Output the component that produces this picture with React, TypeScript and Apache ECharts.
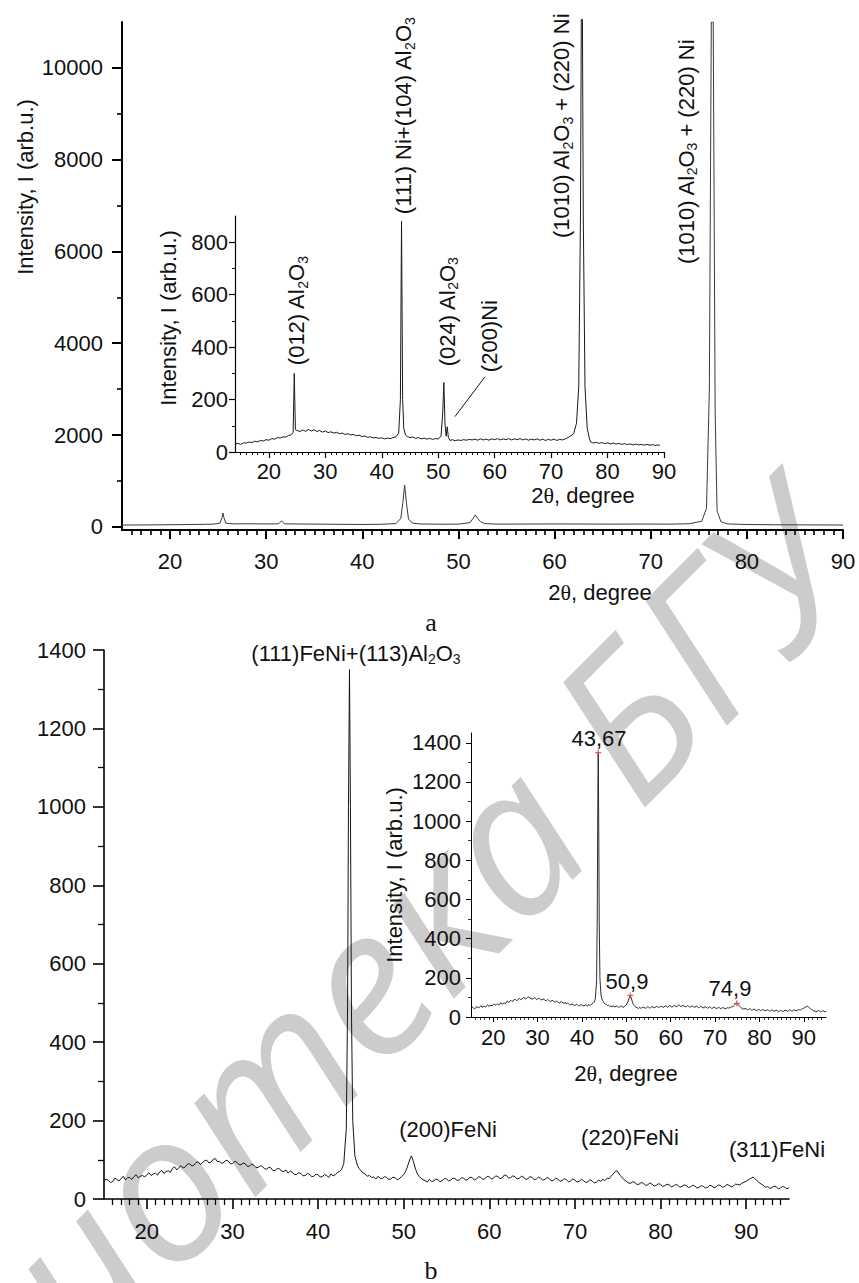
import React, { useEffect, useRef } from 'react';
import * as echarts from 'echarts';

// ---------------- data ----------------
const xTicks = [20, 30, 40, 50, 60, 70, 80, 90];
const yTicksAMain = [0, 2000, 4000, 6000, 8000, 10000];
const yTicksAInset = [0, 200, 400, 600, 800];
const yTicksB = [0, 200, 400, 600, 800, 1000, 1200, 1400];

// (a) main pattern, 2θ vs intensity
const specAMain: [number, number][] = [
  [15, 38], [17, 40], [19, 43], [21, 47], [23, 52], [24.5, 58], [25.2, 80], [25.4, 200], [25.5, 300], [25.6, 200],
  [25.8, 80], [26.5, 64], [28, 66], [30, 62], [31.3, 64], [31.6, 130], [31.9, 64], [34, 60], [37, 55], [40, 50],
  [42, 55], [43.5, 70], [44, 180], [44.2, 500], [44.4, 910], [44.6, 500], [44.8, 170], [45.2, 80], [46, 62], [48, 56],
  [50, 58], [51.2, 90], [51.5, 180], [51.75, 260], [52, 180], [52.3, 110], [52.7, 70], [54, 58], [57, 60], [60, 62],
  [63, 60], [66, 58], [69, 60], [72, 58], [74, 66], [75.3, 120], [75.8, 400], [76.1, 3000], [76.3, 11000], [76.5, 11000],
  [76.7, 2500], [76.9, 350], [77.3, 110], [78, 62], [80, 50], [83, 44], [86, 42], [88, 40], [90, 38],
];

// (a) inset pattern
const specAInset: [number, number][] = [
  [14, 30], [14.5, 33], [15, 29], [15.5, 35], [16, 34], [16.5, 38], [17, 36], [17.5, 41], [18, 39], [18.5, 44],
  [19, 42], [19.5, 47], [20, 45], [20.5, 51], [21, 49], [21.5, 55], [22, 53], [22.5, 58], [23, 57], [23.5, 63],
  [24, 66], [24.3, 75], [24.5, 300], [24.7, 85], [25, 82], [25.5, 78], [26, 84], [26.5, 79], [27, 86], [27.5, 80],
  [28, 85], [28.5, 78], [29, 82], [29.5, 76], [30, 80], [30.5, 74], [31, 77], [31.5, 72], [32, 75], [32.5, 70],
  [33, 72], [33.5, 67], [34, 70], [34.5, 65], [35, 67], [35.5, 62], [36, 64], [36.5, 59], [37, 61], [37.5, 56],
  [38, 58], [38.5, 54], [39, 55], [39.5, 52], [40, 54], [40.5, 50], [41, 53], [41.5, 51], [42, 55], [42.5, 58],
  [43, 72], [43.3, 200], [43.5, 880], [43.7, 200], [43.9, 90], [44.2, 65], [44.6, 58], [45, 55], [45.5, 57], [46, 52],
  [46.5, 55], [47, 50], [47.5, 53], [48, 49], [48.5, 52], [49, 48], [49.5, 51], [50, 50], [50.5, 60], [50.8, 150],
  [51.0, 265], [51.2, 110], [51.4, 60], [51.6, 96], [51.8, 55], [52.1, 44], [52.5, 47], [53, 43], [53.5, 46], [54, 44],
  [54.5, 47], [55, 45], [55.5, 48], [56, 46], [56.5, 49], [57, 45], [57.5, 50], [58, 46], [58.5, 49], [59, 45],
  [59.5, 50], [60, 47], [60.5, 51], [61, 46], [61.5, 50], [62, 47], [62.5, 51], [63, 46], [63.5, 50], [64, 47],
  [64.5, 51], [65, 46], [65.5, 50], [66, 45], [66.5, 49], [67, 46], [67.5, 50], [68, 45], [68.5, 49], [69, 44],
  [69.5, 48], [70, 45], [70.5, 49], [71, 44], [71.5, 48], [72, 46], [72.5, 50], [73, 55], [73.5, 62], [74, 70],
  [74.5, 110], [74.9, 250], [75.2, 900], [75.35, 1650], [75.55, 1650], [75.7, 900], [76.0, 250], [76.4, 90], [76.8, 50], [77, 38],
  [77.5, 34], [78, 37], [78.5, 33], [79, 36], [79.5, 32], [80, 35], [80.5, 31], [81, 34], [81.5, 30], [82, 33],
  [82.5, 29], [83, 32], [83.5, 28], [84, 31], [84.5, 27], [85, 30], [85.5, 27], [86, 29], [86.5, 26], [87, 29],
  [87.5, 26], [88, 28], [88.5, 25], [89, 27], [89.3, 25],
];

// (b) pattern (main and inset)
const specB: [number, number][] = [
  [15, 45], [15.25, 51], [15.5, 48], [15.75, 42], [16, 44], [16.25, 53], [16.5, 50], [16.75, 46], [17, 52], [17.25, 58],
  [17.5, 49], [17.75, 54], [18, 55], [18.25, 50], [18.5, 57], [18.75, 62], [19, 54], [19.25, 58], [19.5, 60], [19.75, 56],
  [20, 62], [20.25, 67], [20.5, 60], [20.75, 64], [21, 66], [21.25, 61], [21.5, 69], [21.75, 73], [22, 65], [22.25, 70],
  [22.5, 72], [22.75, 68], [23, 78], [23.25, 82], [23.5, 74], [23.75, 80], [24, 85], [24.25, 79], [24.5, 82], [24.75, 89],
  [25, 90], [25.25, 84], [25.5, 86], [25.75, 93], [26, 95], [26.25, 88], [26.5, 92], [26.75, 98], [27, 99], [27.25, 92],
  [27.5, 94], [27.75, 101], [28, 103], [28.25, 95], [28.5, 96], [28.75, 91], [29, 93], [29.25, 99], [29.5, 97], [29.75, 90],
  [30, 90], [30.25, 96], [30.5, 94], [30.75, 88], [31, 87], [31.25, 92], [31.5, 90], [31.75, 83], [32, 84], [32.25, 89],
  [32.5, 86], [32.75, 80], [33, 80], [33.25, 85], [33.5, 83], [33.75, 77], [34, 76], [34.25, 81], [34.5, 79], [34.75, 72],
  [35, 73], [35.25, 78], [35.5, 77], [35.75, 71], [36, 70], [36.25, 74], [36.5, 66], [36.75, 71], [37, 68], [37.25, 62],
  [37.5, 63], [37.75, 67], [38, 65], [38.25, 59], [38.5, 60], [38.75, 65], [39, 63], [39.25, 57], [39.5, 58], [39.75, 63],
  [40, 62], [40.25, 56], [40.5, 57], [40.75, 62], [41, 60], [41.25, 55], [41.5, 64], [41.75, 59], [42, 62], [42.25, 67],
  [42.5, 70], [42.75, 76], [43, 90], [43.3, 180], [43.45, 500], [43.55, 1000], [43.67, 1350], [43.78, 1000], [43.9, 480], [44.05, 200],
  [44.3, 110], [44.6, 85], [44.8, 78], [45, 72], [45.25, 66], [45.5, 64], [45.75, 58], [46, 60], [46.25, 55], [46.5, 56],
  [46.75, 51], [47, 58], [47.25, 53], [47.5, 52], [47.75, 57], [48, 55], [48.25, 50], [48.5, 51], [48.75, 56], [49, 54],
  [49.25, 49], [49.5, 52], [49.75, 57], [50, 62], [50.2, 70], [50.4, 80], [50.7, 100], [50.9, 110], [51.1, 98], [51.4, 75],
  [51.6, 64], [51.8, 58], [52, 53], [52.2, 50], [52.5, 47], [52.75, 43], [53, 50], [53.25, 45], [53.5, 46], [53.75, 51],
  [54, 49], [54.25, 44], [54.5, 47], [54.75, 52], [55, 51], [55.25, 46], [55.5, 48], [55.75, 53], [56, 52], [56.25, 47],
  [56.5, 49], [56.75, 54], [57, 53], [57.25, 48], [57.5, 50], [57.75, 56], [58, 54], [58.25, 49], [58.5, 51], [58.75, 57],
  [59, 55], [59.25, 50], [59.5, 52], [59.75, 58], [60, 56], [60.25, 51], [60.5, 53], [60.75, 59], [61, 57], [61.25, 52],
  [61.5, 54], [61.75, 61], [62, 60], [62.25, 53], [62.5, 55], [62.75, 59], [63, 57], [63.25, 51], [63.5, 53], [63.75, 58],
  [64, 56], [64.25, 50], [64.5, 52], [64.75, 57], [65, 55], [65.25, 49], [65.5, 51], [65.75, 56], [66, 53], [66.25, 48],
  [66.5, 50], [66.75, 55], [67, 52], [67.25, 46], [67.5, 48], [67.75, 53], [68, 51], [68.25, 45], [68.5, 47], [68.75, 52],
  [69, 49], [69.25, 44], [69.5, 46], [69.75, 51], [70, 48], [70.25, 43], [70.5, 45], [70.75, 50], [71, 47], [71.25, 42],
  [71.5, 44], [71.75, 49], [72, 46], [72.25, 41], [72.5, 43], [72.75, 48], [73, 45], [73.25, 50], [73.5, 47], [73.75, 53],
  [74, 52], [74.2, 58], [74.4, 62], [74.7, 70], [74.9, 72], [75.1, 66], [75.3, 60], [75.5, 55], [75.75, 49], [76, 45],
  [76.25, 41], [76.5, 40], [76.75, 44], [77, 42], [77.25, 37], [77.5, 38], [77.75, 42], [78, 40], [78.25, 35], [78.5, 36],
  [78.75, 41], [79, 38], [79.25, 33], [79.5, 35], [79.75, 39], [80, 37], [80.25, 32], [80.5, 34], [80.75, 38], [81, 36],
  [81.25, 31], [81.5, 33], [81.75, 37], [82, 35], [82.25, 30], [82.5, 32], [82.75, 36], [83, 34], [83.25, 29], [83.5, 31],
  [83.75, 35], [84, 33], [84.25, 28], [84.5, 30], [84.75, 34], [85, 32], [85.25, 28], [85.5, 30], [85.75, 35], [86, 33],
  [86.25, 29], [86.5, 31], [86.75, 36], [87, 34], [87.25, 30], [87.5, 32], [87.75, 37], [88, 35], [88.25, 31], [88.5, 33],
  [88.75, 38], [89, 37], [89.25, 36], [89.5, 40], [89.75, 43], [90, 45], [90.25, 49], [90.5, 52], [90.8, 56], [91.1, 50],
  [91.3, 46], [91.5, 42], [91.75, 38], [92, 35], [92.25, 30], [92.5, 32], [92.75, 27], [93, 29], [93.25, 33], [93.5, 31],
  [93.75, 26], [94, 28], [94.25, 32], [94.5, 30], [94.75, 26], [95, 29],
];

const peaksB: [number, number][] = [[43.67, 1350], [50.9, 110], [74.9, 70]];
const peakLabelsB = ['43,67', '50,9', '74,9'];

const yTitle = 'Intensity, I (arb.u.)';
const xTitle = '2{t|θ}, degree';
const labelsA = ['(012) Al{s|2}O{s|3}', '(111) Ni+(104) Al{s|2}O{s|3}', '(024) Al{s|2}O{s|3}', '(200)Ni',
  '(1010) Al{s|2}O{s|3} + (220) Ni', '(1010) Al{s|2}O{s|3} + (220) Ni'];
const labelsB = ['(111)FeNi+(113)Al{s|2}O{s|3}', '(200)FeNi', '(220)FeNi', '(311)FeNi'];
const watermark = 'Библиотека БГУ';

// ---------------- styling helpers ----------------
const FONT = '"Liberation Sans", Arial, sans-serif';
const SERIF = '"Liberation Serif", "Times New Roman", serif';
const INK = '#111';

type AxCfg = { lw: number; tl: number; ml: number; minor: number; margin: number; offset?: number };

function axis(kind: 'x' | 'y', gridIndex: number, min: number, max: number, step: number, ticks: number[], c: AxCfg) {
  return {
    type: 'value', gridIndex, min, max, minInterval: step, maxInterval: step,
    offset: c.offset || 0,
    axisLine: { show: true, onZero: false, lineStyle: { color: '#000', width: c.lw } },
    axisTick: { show: true, inside: false, customValues: ticks, length: c.tl, lineStyle: { color: '#000', width: c.lw } },
    minorTick: { show: true, splitNumber: c.minor, length: c.ml, lineStyle: { color: '#000', width: Math.max(0.8, c.lw * 0.8) } },
    axisLabel: {
      show: true, customValues: ticks, margin: c.margin, fontSize: 22, fontFamily: FONT, color: INK,
      formatter: (v: number) => String(v),
    },
    splitLine: { show: false },
    minorSplitLine: { show: false },
  };
}

const RICH = {
  s: { fontSize: 14, fontFamily: FONT, fill: INK, lineHeight: 14, padding: [9, 0, 0, 0], verticalAlign: 'bottom' },
  t: { fontSize: 22, fontFamily: SERIF, fill: INK, lineHeight: 26 },
};

function txt(x: number, y: number, text: string, rotate: boolean, extra: any = {}) {
  return {
    type: 'text', x, y, rotation: rotate ? Math.PI / 2 : 0, z: 20,
    style: {
      text, fontSize: 22, fontFamily: FONT, fill: INK, align: 'center', verticalAlign: 'middle',
      lineHeight: 26, rich: RICH, ...extra,
    },
  };
}

export default function App() {
  const ref = useRef<HTMLDivElement>(null);

  useEffect(() => {
    const el = ref.current;
    if (!el) return;
    const chart = echarts.init(el, null, { renderer: 'svg' });

    const option: any = {
      animation: false,
      backgroundColor: '#ffffff',
      grid: [
        { left: 122, top: 22, width: 721, height: 508, outerBoundsMode: 'none' },
        { left: 235, top: 216, width: 429, height: 236, outerBoundsMode: 'none' },
        { left: 104, top: 650, width: 685, height: 549, outerBoundsMode: 'none' },
        { left: 471, top: 733, width: 355, height: 284, outerBoundsMode: 'none' },
      ],
      xAxis: [
        axis('x', 0, 15, 90, 10, xTicks, { lw: 2, tl: 9, ml: 5, minor: 10, margin: 20 }),
        axis('x', 1, 14, 90, 10, xTicks, { lw: 1.2, tl: 6, ml: 3, minor: 10, margin: 8 }),
        axis('x', 2, 15, 95, 10, xTicks, { lw: 1.6, tl: 10, ml: 6, minor: 10, margin: 21 }),
        axis('x', 3, 15, 95, 10, xTicks, { lw: 1, tl: 5, ml: 3, minor: 10, margin: 9 }),
      ],
      yAxis: [
        axis('y', 0, -70, 11000, 2000, yTicksAMain, { lw: 2, tl: 10, ml: 5, minor: 2, margin: 19 }),
        axis('y', 1, 0, 900, 200, yTicksAInset, { lw: 1.2, tl: 6, ml: 3, minor: 2, margin: 7 }),
        axis('y', 2, 0, 1400, 200, yTicksB, { lw: 1.6, tl: 11, ml: 6, minor: 2, margin: 18 }),
        axis('y', 3, 0, 1450, 200, yTicksB, { lw: 1, tl: 5, ml: 3, minor: 2, margin: 10 }),
      ],
      series: [
        {
          type: 'line', xAxisIndex: 0, yAxisIndex: 0, data: specAMain, showSymbol: false, clip: true,
          lineStyle: { color: '#3a3a3a', width: 1 }, z: 3,
        },
        {
          type: 'line', xAxisIndex: 1, yAxisIndex: 1, data: specAInset, showSymbol: false, clip: false,
          lineStyle: { color: '#1a1a1a', width: 1 }, z: 4,
          markLine: {
            silent: true, symbol: ['none', 'arrow'], symbolSize: [0, 7],
            lineStyle: { color: '#111', width: 1, type: 'solid' }, label: { show: false },
            data: [[{ coord: [58.29, 287] }, { coord: [52.97, 135] }]],
          },
        },
        {
          type: 'line', xAxisIndex: 2, yAxisIndex: 2, data: specB, showSymbol: false, clip: true,
          lineStyle: { color: '#151515', width: 1 }, z: 3,
        },
        {
          type: 'line', xAxisIndex: 3, yAxisIndex: 3, data: specB, showSymbol: false, clip: true,
          lineStyle: { color: '#151515', width: 0.9 }, z: 4,
        },
        {
          type: 'scatter', xAxisIndex: 3, yAxisIndex: 3, data: peaksB, z: 5,
          symbol: 'path://M4,0L6,0L6,4L10,4L10,6L6,6L6,10L4,10L4,6L0,6L0,4L4,4Z', symbolSize: 6,
          itemStyle: { color: '#e03a3a' },
        },
      ],
    };
    chart.setOption(option);

    const px = (g: number, p: number[]) => chart.convertToPixel({ gridIndex: g } as any, p) as number[];
    const at = (g: number, p: number[], text: string, rot: boolean) => {
      const [x, y] = px(g, p);
      return txt(x, y, text, rot);
    };

    const graphics: any[] = [
      {
        type: 'text', x: 262, y: 1078, rotation: Math.PI / 4, z: -10, silent: true,
        style: {
          text: watermark, fontSize: 205, fontFamily: '"Open Sans", "Noto Sans", sans-serif', fontStyle: 'italic',
          fill: '#cccccc', align: 'center', verticalAlign: 'middle',
        },
      },
      // (a) peak labels
      at(1, [24.98, 538], labelsA[0], true),
      at(0, [44.33, 8952], labelsA[1], true),
      at(1, [51.56, 534], labelsA[2], true),
      at(1, [59.0, 442], labelsA[3], true),
      at(1, [71.93, 1243], labelsA[4], true),
      at(0, [73.67, 8167], labelsA[5], true),
      // (b) peak labels
      at(2, [44.43, 1392], labelsB[0], false),
      at(2, [55.18, 176], labelsB[1], false),
      at(2, [76.43, 156], labelsB[2], false),
      at(2, [93.6, 125], labelsB[3], false),
      at(3, [43.85, 1424], peakLabelsB[0], false),
      at(3, [50.15, 179], peakLabelsB[1], false),
      at(3, [73.37, 143], peakLabelsB[2], false),
      // axis titles
      txt(25, 187, yTitle, true),
      txt(600, 592, xTitle, false),
      txt(168, 318, yTitle, true),
      txt(583, 495, xTitle, false),
      txt(394, 875, yTitle, true),
      txt(626, 1073, xTitle, false),
      // panel letters
      txt(431, 622, 'a', false, { fontFamily: SERIF, fontSize: 26 }),
      txt(431, 1270, 'b', false, { fontFamily: SERIF, fontSize: 26 }),
    ];
    chart.setOption({ graphic: graphics });

    return () => chart.dispose();
  }, []);

  return (
    <div
      ref={ref}
      style={{ position: 'absolute', left: 0, top: 0, width: 859, height: 1283, background: '#fff' }}
    />
  );
}
